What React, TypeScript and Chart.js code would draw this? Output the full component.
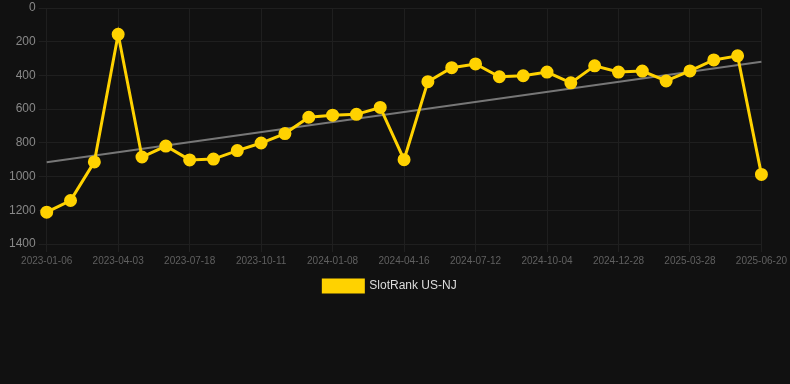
import React, { useEffect, useRef } from "react";
import { Chart, registerables } from "chart.js";

Chart.register(...registerables);

const dates = [
  "2023-01-06", "2023-02-03", "2023-03-03", "2023-04-03", "2023-05-08", "2023-06-12",
  "2023-07-18", "2023-08-15", "2023-09-13", "2023-10-11", "2023-11-08", "2023-12-09",
  "2024-01-08", "2024-02-12", "2024-03-15", "2024-04-16", "2024-05-14", "2024-06-12",
  "2024-07-12", "2024-08-09", "2024-09-06", "2024-10-04", "2024-11-01", "2024-11-29",
  "2024-12-28", "2025-01-27", "2025-02-26", "2025-03-28", "2025-04-25", "2025-05-23",
  "2025-06-20",
];

const rankValues = [
  1211, 1142, 913, 156, 884, 819, 901, 896, 846, 801, 745, 648, 636, 631, 590, 900,
  437, 354, 332, 408, 402, 380, 444, 343, 380, 374, 433, 373, 308, 284, 987,
];

const trendStart = 915;
const trendEnd = 319;

const seriesLabel = "SlotRank US-NJ";
const yTicks = [0, 200, 400, 600, 800, 1000, 1200, 1400];

export default function App() {
  const ref = useRef<HTMLCanvasElement | null>(null);

  useEffect(() => {
    document.body.style.margin = "0";
    document.body.style.background = "#111111";
    const trend = dates.map((_, i) =>
      i === 0 ? trendStart : i === dates.length - 1 ? trendEnd : null
    );
    const chart = new Chart(ref.current as HTMLCanvasElement, {
      type: "line",
      data: {
        labels: dates,
        datasets: [
          {
            label: seriesLabel,
            data: rankValues,
            borderColor: "#FFD200",
            backgroundColor: "#FFD200",
            borderWidth: 3,
            pointRadius: 5,
            pointHoverRadius: 5,
            pointBackgroundColor: "#FFD200",
            pointBorderColor: "#FFD200",
            tension: 0,
          },
          {
            label: "trend",
            data: trend,
            borderColor: "#777777",
            borderWidth: 2,
            pointRadius: 0,
            spanGaps: true,
            tension: 0,
          },
        ],
      },
      options: {
        animation: false,
        responsive: true,
        maintainAspectRatio: false,
        layout: { padding: { left: 6, right: 16, top: 0, bottom: 82 } },
        scales: {
          x: {
            offset: false,
            grid: { color: "#1f1f1f", tickLength: 8 },
            border: { color: "#1f1f1f" },
            ticks: {
              color: "#606060",
              font: { family: "'Liberation Sans', Arial, sans-serif", size: 10 },
              maxRotation: 0,
              autoSkip: true,
              maxTicksLimit: 11,
            },
          },
          y: {
            reverse: true,
            min: 0,
            max: 1400,
            afterBuildTicks: (axis: any) => {
              axis.ticks = yTicks.map((v) => ({ value: v }));
            },
            grid: { color: "#1f1f1f", tickLength: 8 },
            border: { color: "#1f1f1f" },
            ticks: {
              color: "#888888",
              font: { family: "'Liberation Sans', Arial, sans-serif", size: 12, lineHeight: 0.4 },
              padding: 3,
              callback: (v: any) => String(v),
            },
          },
        },
        plugins: {
          legend: {
            position: "bottom",
            labels: {
              color: "#dddddd",
              font: { family: "'Liberation Sans', Arial, sans-serif", size: 12 },
              boxWidth: 40,
              boxHeight: 12,
              filter: (item: any) => item.text === seriesLabel,
            },
          },
          tooltip: { enabled: false },
        },
      },
    });
    return () => chart.destroy();
  }, []);

  return (
    <div style={{ width: 790, height: 384, background: "#111111", position: "relative" }}>
      <canvas ref={ref} />
    </div>
  );
}
